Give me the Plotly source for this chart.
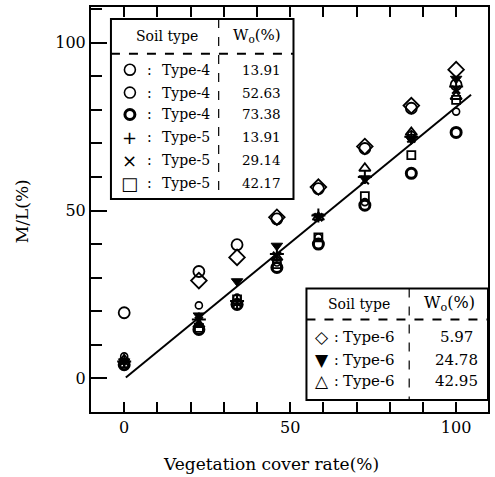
import plotly.graph_objects as go

# ---- data ----
cover = [0, 22.5, 34, 46, 58.5, 72.5, 86.5, 100]
t4_1391 = [19.5, 31.8, 39.8, 47.5, 56.5, 68.5, 80.5, 87.5]
t4_5263 = [6.5, 21.7, 24.0, 34.5, 42.0, 52.5, 72.5, 79.5]
t4_7338 = [4.0, 14.5, 22.0, 33.0, 40.0, 51.6, 61.1, 73.3]
t5_1391 = [5.0, 17.5, 23.0, 37.0, 48.5, 60.0, 72.0, 87.0]
t5_2914 = [5.0, 17.0, 22.5, 36.5, 48.0, 59.0, 71.5, 86.0]
t5_4217 = [4.5, 15.0, 23.5, 34.0, 42.0, 54.3, 66.5, 83.0]
t6_597 = [None, 29.1, 36.0, 48.0, 57.0, 69.1, 81.3, 92.0]
t6_2478 = [5.0, 18.7, 28.9, 39.5, 48.2, 59.6, 71.2, 89.3]
t6_4295 = [5.5, 16.0, 22.5, 36.0, 48.0, 62.6, 73.3, 84.0]
fit_x = [0.5, 104.5]
fit_y = [0.2, 84.5]

legend1_sym = ["○", "○", "BOLD", "+", "×", "□"]
legend1_type = ["Type-4", "Type-4", "Type-4", "Type-5", "Type-5", "Type-5"]
legend1_w = ["13.91", "52.63", "73.38", "13.91", "29.14", "42.17"]
legend2_sym = ["◇", "▼", "△"]
legend2_type = ["Type-6", "Type-6", "Type-6"]
legend2_w = ["5.97", "24.78", "42.95"]

SERIF = "DejaVu Serif"
fig = go.Figure()

def add(y, symbol, size, lw=1.5, color="black", fill=None):
    fig.add_trace(go.Scatter(
        x=cover, y=y, mode="markers", showlegend=False,
        marker=dict(symbol=symbol, size=size, color=fill if fill else "black",
                    line=dict(width=lw, color=color))))

add(t4_1391, "circle-open", 11, 1.8)
add(t4_5263, "circle-open", 7, 1.6)
add(t4_7338, "circle-open", 10, 3)
add(t5_1391, "cross-thin-open", 10, 2)
add(t5_2914, "x-thin-open", 8, 2)
add(t5_4217, "square-open", 8, 1.8)
add(t6_597, "diamond-open", 12, 1.8)
add(t6_2478, "triangle-down", 10, 1)
add(t6_4295, "triangle-up-open", 10, 1.8)

fig.add_trace(go.Scatter(x=fit_x, y=fit_y, mode="lines", showlegend=False,
                         line=dict(color="black", width=2)))

# ---- layout geometry (pixels) ----
W, H = 495, 477
L, R, T, B = 91, 489, 5, 412
PW, PH = R - L, B - T

def px(x):
    return (x - L) / PW

def py(y):
    return 1 - (y - T) / PH

shapes = []
annots = []

def box(x0, y0, x1, y1, hy, vx):
    shapes.append(dict(type="rect", xref="paper", yref="paper",
                       x0=px(x0), x1=px(x1), y0=py(y1), y1=py(y0),
                       line=dict(color="black", width=2), fillcolor="white",
                       layer="above"))
    shapes.append(dict(type="line", xref="paper", yref="paper",
                       x0=px(x0), x1=px(x1), y0=py(hy), y1=py(hy),
                       line=dict(color="black", width=2, dash="dash"), layer="above"))
    shapes.append(dict(type="line", xref="paper", yref="paper",
                       x0=px(vx), x1=px(vx), y0=py(y0), y1=py(y1),
                       line=dict(color="black", width=1.2, dash="dash"), layer="above"))

def txt(x, y, s, size=14, anchor="center", fam=SERIF):
    annots.append(dict(xref="paper", yref="paper", x=px(x), y=py(y), text=s,
                       showarrow=False, xanchor=anchor, yanchor="middle",
                       font=dict(family=fam, size=size, color="black")))

def circ(x, y, r, lw):
    shapes.append(dict(type="circle", xref="paper", yref="paper",
                       x0=px(x - r), x1=px(x + r), y0=py(y + r), y1=py(y - r),
                       line=dict(color="black", width=lw), layer="above"))

# legend box 1
box(111, 17, 294, 198, 52, 219)
txt(167, 34, "Soil type", 14)
txt(257, 34, "W<sub>o</sub>(%)", 15)
rows1 = [68, 91, 113, 136, 159, 182]
for i, yy in enumerate(rows1):
    s = legend1_sym[i]
    if s == "○":
        circ(130, yy, 5.5, 1.6)
    elif s == "BOLD":
        circ(130, yy, 5, 3)
    else:
        txt(130, yy, s, 18, fam="DejaVu Sans")
    txt(150, yy, ":", 14)
    txt(160, yy, legend1_type[i], 14, anchor="left")
    txt(262, yy, legend1_w[i], 13.5)

# legend box 2
box(307, 288, 489, 400, 319, 410)
txt(360, 303, "Soil type", 14)
txt(450, 303, "W<sub>o</sub>(%)", 16)
rows2 = [337, 360, 381]
for i, yy in enumerate(rows2):
    txt(323, yy, legend2_sym[i], 17, fam="DejaVu Sans")
    txt(337, yy, ":", 14)
    txt(342, yy, legend2_type[i], 15, anchor="left")
    txt(457, yy, legend2_w[i], 15)

# axis titles
annots.append(dict(xref="paper", yref="paper", x=px(271), y=py(464), text="Vegetation cover rate(%)",
                   showarrow=False, xanchor="center", yanchor="middle",
                   font=dict(family=SERIF, size=17, color="black")))
annots.append(dict(xref="paper", yref="paper", x=px(22), y=py(210), text="M/L(%)", textangle=-90,
                   showarrow=False, xanchor="center", yanchor="middle",
                   font=dict(family=SERIF, size=17, color="black")))

fig.update_layout(
    width=W, height=H, margin=dict(l=L, r=W - R, t=T, b=H - B),
    paper_bgcolor="white", plot_bgcolor="white",
    shapes=shapes, annotations=annots,
    xaxis=dict(range=[-10, 109.6], tickvals=[0, 50, 100], ticks="inside", ticklen=10,
               tickwidth=2, tickcolor="black", showgrid=False, zeroline=False,
               showline=True, linecolor="black", linewidth=2, mirror="ticks",
               tickfont=dict(family=SERIF, size=16, color="black"),
               minor=dict(dtick=10, tick0=0, ticks="inside", ticklen=10, tickwidth=1.5,
                          tickcolor="black", showgrid=False)),
    yaxis=dict(range=[-10.1, 110.7], tickvals=[0, 50, 100], ticks="inside", ticklen=16,
               tickwidth=2, tickcolor="black", showgrid=False, zeroline=False,
               showline=True, linecolor="black", linewidth=2, mirror=True,
               tickfont=dict(family=SERIF, size=16, color="black"),
               minor=dict(dtick=10, tick0=0, ticks="inside", ticklen=11, tickwidth=1.5,
                          tickcolor="black", showgrid=False)),
)

fig.write_html("out.html")
